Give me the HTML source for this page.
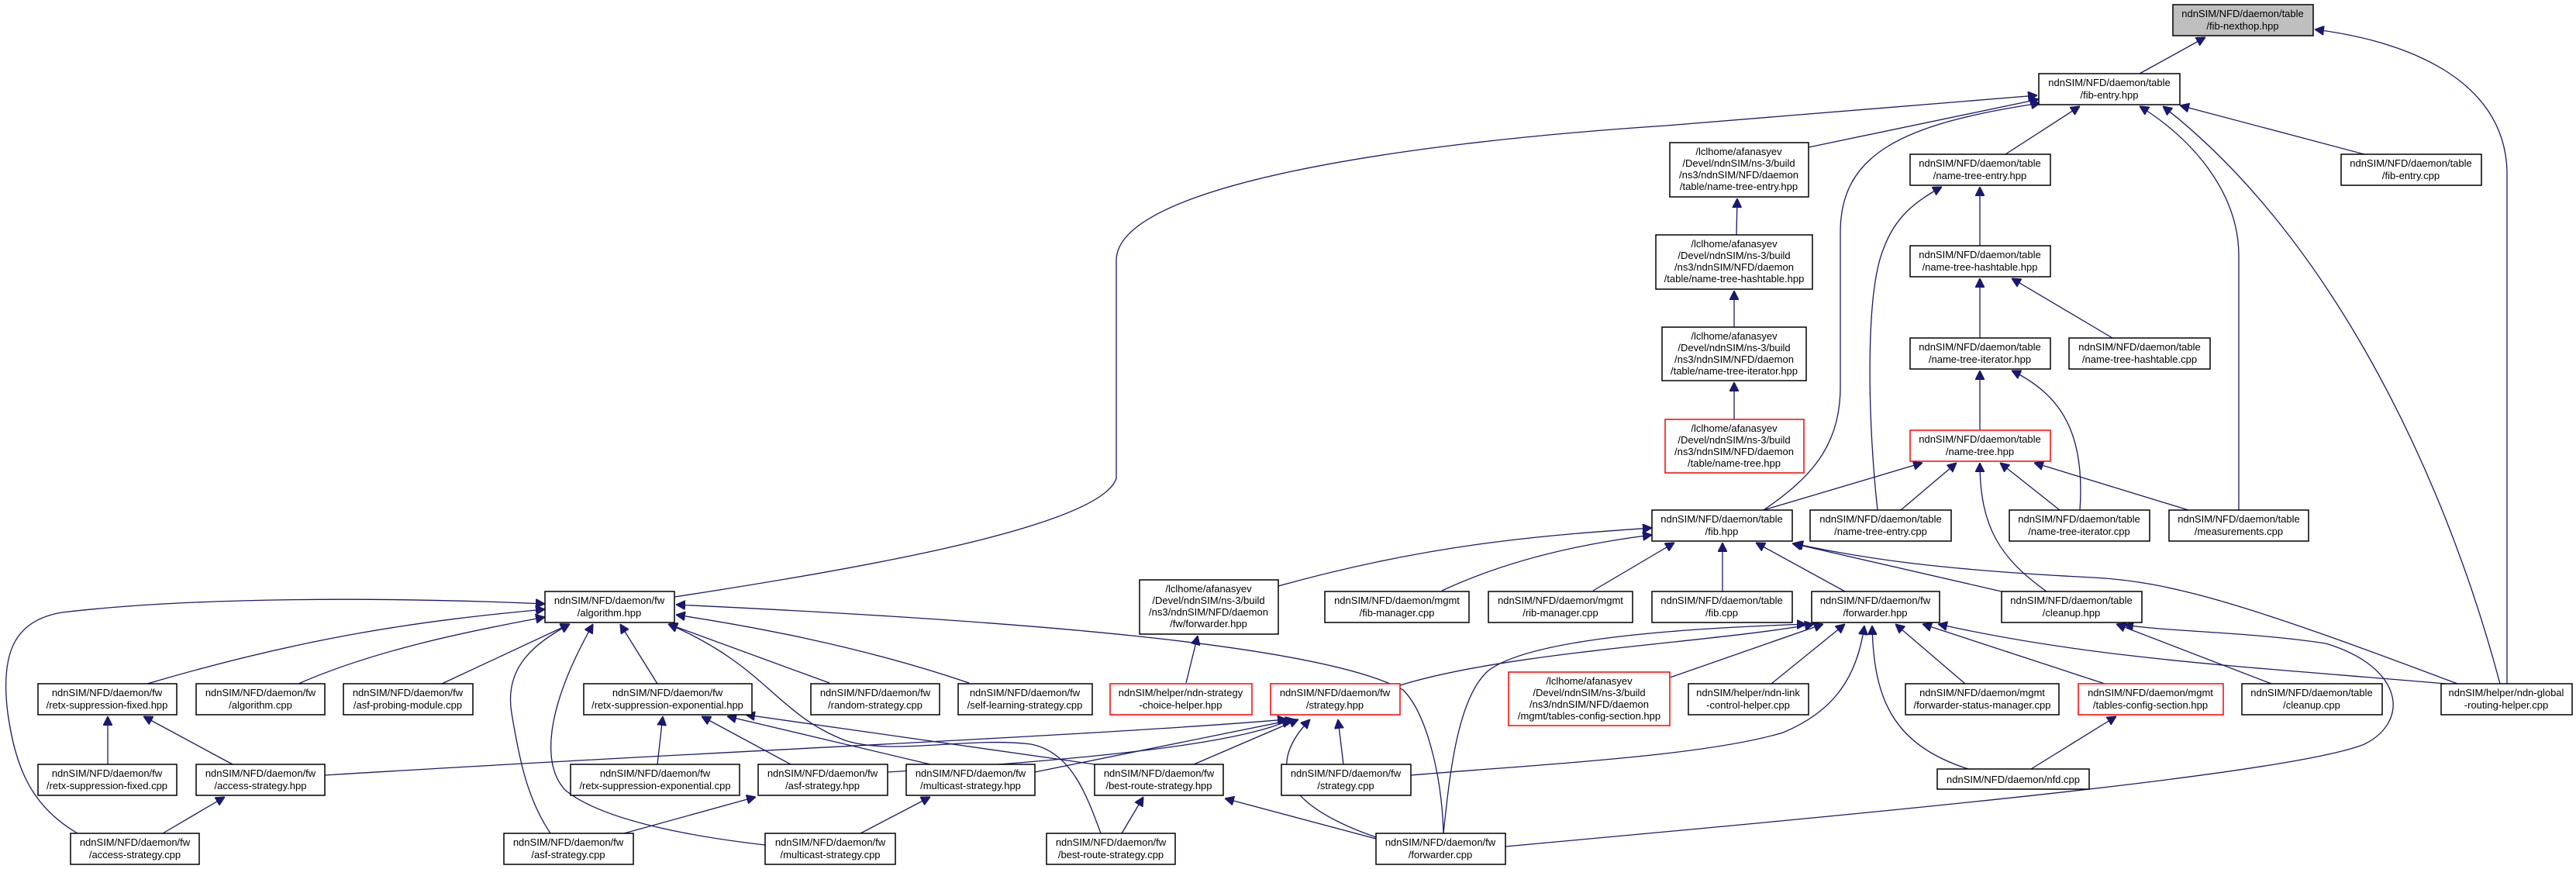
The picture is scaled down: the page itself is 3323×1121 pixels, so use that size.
<!DOCTYPE html>
<html><head><meta charset="utf-8"><style>
html,body{margin:0;padding:0;background:#fff;}
svg{display:block;}
text{font-family:"Liberation Sans",sans-serif;font-size:13px;fill:#000;text-anchor:middle;}
.n{fill:#fff;stroke:#000;stroke-width:1.5;}
.r{fill:#fff;stroke:#ff0000;stroke-width:1.5;}
.g{fill:#bfbfbf;stroke:#000;stroke-width:1.5;}
path.e{fill:none;stroke:#191970;stroke-width:1.3;marker-end:url(#a);}
</style></head><body>
<svg width="3323" height="1121" viewBox="0 0 3323 1121" xmlns="http://www.w3.org/2000/svg">
<defs><marker id="a" viewBox="0 0 10 10" refX="10" refY="5" markerWidth="12" markerHeight="12" markerUnits="userSpaceOnUse" orient="auto"><path d="M0,0 L10,5 L0,10 z" fill="#191970" stroke="#191970"/></marker></defs>

<!-- edges -->
<path class="e" d="M2760,95 L2845,48"/>
<path class="e" d="M3234,882 C3234,700 3234,450 3234,220 C3230,100 3100,52 2986,38"/>
<path class="e" d="M870,770 C1100,735 1420,680 1440,617 L1440,336 C1440,240 1800,185 2150,162 L2628,123"/>
<path class="e" d="M2333,190 L2630,128"/>
<path class="e" d="M2275,658 C2330,620 2374,580 2374,500 L2374,300 C2374,200 2450,160 2632,133"/>
<path class="e" d="M2587,199 L2683,137"/>
<path class="e" d="M2888,658 L2888,330 C2888,250 2830,180 2760,137"/>
<path class="e" d="M3225,882 C3150,600 3000,300 2790,137"/>
<path class="e" d="M3050,199 L2812,136"/>
<path class="e" d="M2240,303 L2241,256"/>
<path class="e" d="M2237,422 L2237,375"/>
<path class="e" d="M2237,541 L2237,493"/>
<path class="e" d="M2554,317 L2554,241"/>
<path class="e" d="M2422,658 C2410,550 2405,380 2430,320 C2445,280 2470,260 2505,241"/>
<path class="e" d="M2554,436 L2554,359"/>
<path class="e" d="M2725,436 L2595,359"/>
<path class="e" d="M2554,555 L2554,478"/>
<path class="e" d="M2683,658 C2690,560 2660,510 2595,478"/>
<path class="e" d="M2275,658 L2480,597"/>
<path class="e" d="M2452,658 L2524,597"/>
<path class="e" d="M2657,658 L2580,597"/>
<path class="e" d="M2823,658 L2624,597"/>
<path class="e" d="M2640,763 C2580,720 2554,680 2554,597"/>
<path class="e" d="M1649,756 C1850,700 2000,690 2131,681"/>
<path class="e" d="M1860,762 C1950,720 2050,700 2131,690"/>
<path class="e" d="M2055,762 L2160,700"/>
<path class="e" d="M2222,763 L2222,700"/>
<path class="e" d="M2380,763 L2265,700"/>
<path class="e" d="M2582,763 L2312,701"/>
<path class="e" d="M3170,882 C2900,780 2800,750 2700,745 C2500,735 2400,720 2314,701"/>
<path class="e" d="M1530,881 L1545,820"/>
<path class="e" d="M1806,884 C1950,840 2200,830 2340,805"/>
<path class="e" d="M2154,874 L2352,805"/>
<path class="e" d="M2285,882 L2380,805"/>
<path class="e" d="M2535,882 L2445,805"/>
<path class="e" d="M2715,882 L2480,805"/>
<path class="e" d="M3155,882 C2900,860 2700,850 2500,805"/>
<path class="e" d="M2539,992 C2440,960 2417,900 2415,807"/>
<path class="e" d="M1820,1000 C2000,985 2200,975 2300,945 C2360,920 2395,880 2405,807"/>
<path class="e" d="M1862,1075 C1870,1000 1880,900 1920,865 C1980,820 2200,810 2330,805"/>
<path class="e" d="M2930,882 L2730,805"/>
<path class="e" d="M1942,1092 C2400,1050 2950,1000 3050,960 C3110,930 3100,860 3000,830 C2900,815 2800,815 2740,806"/>
<path class="e" d="M2620,992 L2730,924"/>
<path class="e" d="M190,882 C400,820 550,800 703,786"/>
<path class="e" d="M385,882 C480,840 600,815 703,796"/>
<path class="e" d="M570,882 L735,805"/>
<path class="e" d="M100,1075 C40,1040 20,990 10,920 C0,840 20,800 80,790 C250,770 500,770 703,779"/>
<path class="e" d="M848,882 L800,805"/>
<path class="e" d="M1070,881 L862,805"/>
<path class="e" d="M1250,881 C1100,830 950,805 872,793"/>
<path class="e" d="M710,1075 C680,1030 670,980 660,920 C650,860 690,830 735,805"/>
<path class="e" d="M987,1090 C900,1080 780,1060 730,1020 C700,990 700,920 765,805"/>
<path class="e" d="M1420,1075 C1400,1020 1380,970 1330,960 C1250,950 1150,975 1090,955 C1000,920 990,860 862,805"/>
<path class="e" d="M1862,1075 C1860,1000 1840,920 1810,890 C1700,830 1300,800 872,780"/>
<path class="e" d="M139,986 L139,924"/>
<path class="e" d="M300,986 L185,924"/>
<path class="e" d="M210,1075 L290,1028"/>
<path class="e" d="M848,986 L855,924"/>
<path class="e" d="M1020,986 L905,924"/>
<path class="e" d="M1200,986 L938,924"/>
<path class="e" d="M1440,990 L962,922"/>
<path class="e" d="M805,1075 L975,1028"/>
<path class="e" d="M1110,1075 L1200,1028"/>
<path class="e" d="M1447,1075 L1475,1028"/>
<path class="e" d="M1775,1082 L1580,1030"/>
<path class="e" d="M419,1000 C900,970 1400,950 1660,928"/>
<path class="e" d="M1145,996 C1400,980 1600,960 1665,928"/>
<path class="e" d="M1335,996 L1670,928"/>
<path class="e" d="M1540,986 L1675,928"/>
<path class="e" d="M1733,986 L1726,928"/>
<path class="e" d="M1775,1080 C1660,1040 1630,990 1690,928"/>

<!-- nodes -->
<g>
<rect class="g" x="2803" y="6" width="181" height="40"/><text x="2893" y="22">ndnSIM/NFD/daemon/table</text><text x="2893" y="38">/fib-nexthop.hpp</text>
<rect class="n" x="2630" y="95" width="182" height="40"/><text x="2721" y="111">ndnSIM/NFD/daemon/table</text><text x="2721" y="127">/fib-entry.hpp</text>
<rect class="n" x="2154" y="184" width="179" height="70"/><text x="2243" y="200">/lclhome/afanasyev</text><text x="2243" y="215">/Devel/ndnSIM/ns-3/build</text><text x="2243" y="230">/ns3/ndnSIM/NFD/daemon</text><text x="2243" y="245">/table/name-tree-entry.hpp</text>
<rect class="n" x="2464" y="199" width="181" height="40"/><text x="2554" y="215">ndnSIM/NFD/daemon/table</text><text x="2554" y="231">/name-tree-entry.hpp</text>
<rect class="n" x="3020" y="199" width="181" height="40"/><text x="3110" y="215">ndnSIM/NFD/daemon/table</text><text x="3110" y="231">/fib-entry.cpp</text>
<rect class="n" x="2136" y="303" width="202" height="70"/><text x="2237" y="319">/lclhome/afanasyev</text><text x="2237" y="334">/Devel/ndnSIM/ns-3/build</text><text x="2237" y="349">/ns3/ndnSIM/NFD/daemon</text><text x="2237" y="364">/table/name-tree-hashtable.hpp</text>
<rect class="n" x="2464" y="317" width="181" height="40"/><text x="2554" y="333">ndnSIM/NFD/daemon/table</text><text x="2554" y="349">/name-tree-hashtable.hpp</text>
<rect class="n" x="2144" y="422" width="186" height="69"/><text x="2237" y="438">/lclhome/afanasyev</text><text x="2237" y="453">/Devel/ndnSIM/ns-3/build</text><text x="2237" y="468">/ns3/ndnSIM/NFD/daemon</text><text x="2237" y="483">/table/name-tree-iterator.hpp</text>
<rect class="n" x="2464" y="436" width="181" height="40"/><text x="2554" y="452">ndnSIM/NFD/daemon/table</text><text x="2554" y="468">/name-tree-iterator.hpp</text>
<rect class="n" x="2669" y="436" width="182" height="40"/><text x="2760" y="452">ndnSIM/NFD/daemon/table</text><text x="2760" y="468">/name-tree-hashtable.cpp</text>
<rect class="r" x="2148" y="541" width="179" height="69"/><text x="2237" y="557">/lclhome/afanasyev</text><text x="2237" y="572">/Devel/ndnSIM/ns-3/build</text><text x="2237" y="587">/ns3/ndnSIM/NFD/daemon</text><text x="2237" y="602">/table/name-tree.hpp</text>
<rect class="r" x="2464" y="555" width="181" height="40"/><text x="2554" y="571">ndnSIM/NFD/daemon/table</text><text x="2554" y="587">/name-tree.hpp</text>
<rect class="n" x="2131" y="658" width="181" height="40"/><text x="2221" y="674">ndnSIM/NFD/daemon/table</text><text x="2221" y="690">/fib.hpp</text>
<rect class="n" x="2335" y="658" width="182" height="40"/><text x="2426" y="674">ndnSIM/NFD/daemon/table</text><text x="2426" y="690">/name-tree-entry.cpp</text>
<rect class="n" x="2592" y="658" width="181" height="40"/><text x="2682" y="674">ndnSIM/NFD/daemon/table</text><text x="2682" y="690">/name-tree-iterator.cpp</text>
<rect class="n" x="2798" y="658" width="180" height="40"/><text x="2888" y="674">ndnSIM/NFD/daemon/table</text><text x="2888" y="690">/measurements.cpp</text>
<rect class="n" x="2131" y="763" width="181" height="40"/><text x="2221" y="779">ndnSIM/NFD/daemon/table</text><text x="2221" y="795">/fib.cpp</text>
<rect class="n" x="2337" y="763" width="165" height="40"/><text x="2419" y="779">ndnSIM/NFD/daemon/fw</text><text x="2419" y="795">/forwarder.hpp</text>
<rect class="n" x="2582" y="763" width="181" height="40"/><text x="2672" y="779">ndnSIM/NFD/daemon/table</text><text x="2672" y="795">/cleanup.hpp</text>
<rect class="r" x="1946" y="867" width="208" height="69"/><text x="2050" y="883">/lclhome/afanasyev</text><text x="2050" y="898">/Devel/ndnSIM/ns-3/build</text><text x="2050" y="913">/ns3/ndnSIM/NFD/daemon</text><text x="2050" y="928">/mgmt/tables-config-section.hpp</text>
<rect class="n" x="2178" y="882" width="155" height="40"/><text x="2255" y="898">ndnSIM/helper/ndn-link</text><text x="2255" y="914">-control-helper.cpp</text>
<rect class="n" x="2458" y="882" width="198" height="40"/><text x="2557" y="898">ndnSIM/NFD/daemon/mgmt</text><text x="2557" y="914">/forwarder-status-manager.cpp</text>
<rect class="r" x="2681" y="882" width="187" height="40"/><text x="2774" y="898">ndnSIM/NFD/daemon/mgmt</text><text x="2774" y="914">/tables-config-section.hpp</text>
<rect class="n" x="2892" y="882" width="181" height="40"/><text x="2982" y="898">ndnSIM/NFD/daemon/table</text><text x="2982" y="914">/cleanup.cpp</text>
<rect class="n" x="3149" y="882" width="169" height="40"/><text x="3233" y="898">ndnSIM/helper/ndn-global</text><text x="3233" y="914">-routing-helper.cpp</text>
<rect class="n" x="2499" y="992" width="196" height="26"/><text x="2597" y="1010">ndnSIM/NFD/daemon/nfd.cpp</text>
<rect class="n" x="1470" y="748" width="179" height="70"/><text x="1559" y="764">/lclhome/afanasyev</text><text x="1559" y="779">/Devel/ndnSIM/ns-3/build</text><text x="1559" y="794">/ns3/ndnSIM/NFD/daemon</text><text x="1559" y="809">/fw/forwarder.hpp</text>
<rect class="n" x="1709" y="763" width="186" height="40"/><text x="1802" y="779">ndnSIM/NFD/daemon/mgmt</text><text x="1802" y="795">/fib-manager.cpp</text>
<rect class="n" x="1920" y="763" width="186" height="40"/><text x="2013" y="779">ndnSIM/NFD/daemon/mgmt</text><text x="2013" y="795">/rib-manager.cpp</text>
<rect class="n" x="703" y="763" width="167" height="40"/><text x="786" y="779">ndnSIM/NFD/daemon/fw</text><text x="786" y="795">/algorithm.hpp</text>
<rect class="n" x="1046" y="882" width="166" height="40"/><text x="1129" y="898">ndnSIM/NFD/daemon/fw</text><text x="1129" y="914">/random-strategy.cpp</text>
<rect class="n" x="1236" y="882" width="173" height="40"/><text x="1322" y="898">ndnSIM/NFD/daemon/fw</text><text x="1322" y="914">/self-learning-strategy.cpp</text>
<rect class="r" x="1432" y="882" width="183" height="40"/><text x="1523" y="898">ndnSIM/helper/ndn-strategy</text><text x="1523" y="914">-choice-helper.hpp</text>
<rect class="r" x="1639" y="882" width="167" height="40"/><text x="1722" y="898">ndnSIM/NFD/daemon/fw</text><text x="1722" y="914">/strategy.hpp</text>
<rect class="n" x="49" y="882" width="179" height="40"/><text x="138" y="898">ndnSIM/NFD/daemon/fw</text><text x="138" y="914">/retx-suppression-fixed.hpp</text>
<rect class="n" x="253" y="882" width="166" height="40"/><text x="336" y="898">ndnSIM/NFD/daemon/fw</text><text x="336" y="914">/algorithm.cpp</text>
<rect class="n" x="443" y="882" width="167" height="40"/><text x="526" y="898">ndnSIM/NFD/daemon/fw</text><text x="526" y="914">/asf-probing-module.cpp</text>
<rect class="n" x="753" y="882" width="217" height="40"/><text x="861" y="898">ndnSIM/NFD/daemon/fw</text><text x="861" y="914">/retx-suppression-exponential.hpp</text>
<rect class="n" x="49" y="986" width="179" height="40"/><text x="138" y="1002">ndnSIM/NFD/daemon/fw</text><text x="138" y="1018">/retx-suppression-fixed.cpp</text>
<rect class="n" x="253" y="986" width="166" height="40"/><text x="336" y="1002">ndnSIM/NFD/daemon/fw</text><text x="336" y="1018">/access-strategy.hpp</text>
<rect class="n" x="736" y="986" width="218" height="40"/><text x="845" y="1002">ndnSIM/NFD/daemon/fw</text><text x="845" y="1018">/retx-suppression-exponential.cpp</text>
<rect class="n" x="978" y="986" width="167" height="40"/><text x="1061" y="1002">ndnSIM/NFD/daemon/fw</text><text x="1061" y="1018">/asf-strategy.hpp</text>
<rect class="n" x="1169" y="986" width="166" height="40"/><text x="1252" y="1002">ndnSIM/NFD/daemon/fw</text><text x="1252" y="1018">/multicast-strategy.hpp</text>
<rect class="n" x="1412" y="986" width="166" height="40"/><text x="1495" y="1002">ndnSIM/NFD/daemon/fw</text><text x="1495" y="1018">/best-route-strategy.hpp</text>
<rect class="n" x="1653" y="986" width="167" height="40"/><text x="1736" y="1002">ndnSIM/NFD/daemon/fw</text><text x="1736" y="1018">/strategy.cpp</text>
<rect class="n" x="91" y="1075" width="166" height="40"/><text x="174" y="1091">ndnSIM/NFD/daemon/fw</text><text x="174" y="1107">/access-strategy.cpp</text>
<rect class="n" x="650" y="1075" width="167" height="40"/><text x="733" y="1091">ndnSIM/NFD/daemon/fw</text><text x="733" y="1107">/asf-strategy.cpp</text>
<rect class="n" x="987" y="1075" width="168" height="40"/><text x="1071" y="1091">ndnSIM/NFD/daemon/fw</text><text x="1071" y="1107">/multicast-strategy.cpp</text>
<rect class="n" x="1350" y="1075" width="166" height="40"/><text x="1433" y="1091">ndnSIM/NFD/daemon/fw</text><text x="1433" y="1107">/best-route-strategy.cpp</text>
<rect class="n" x="1775" y="1075" width="167" height="40"/><text x="1858" y="1091">ndnSIM/NFD/daemon/fw</text><text x="1858" y="1107">/forwarder.cpp</text>
</g>
</svg>
</body></html>
